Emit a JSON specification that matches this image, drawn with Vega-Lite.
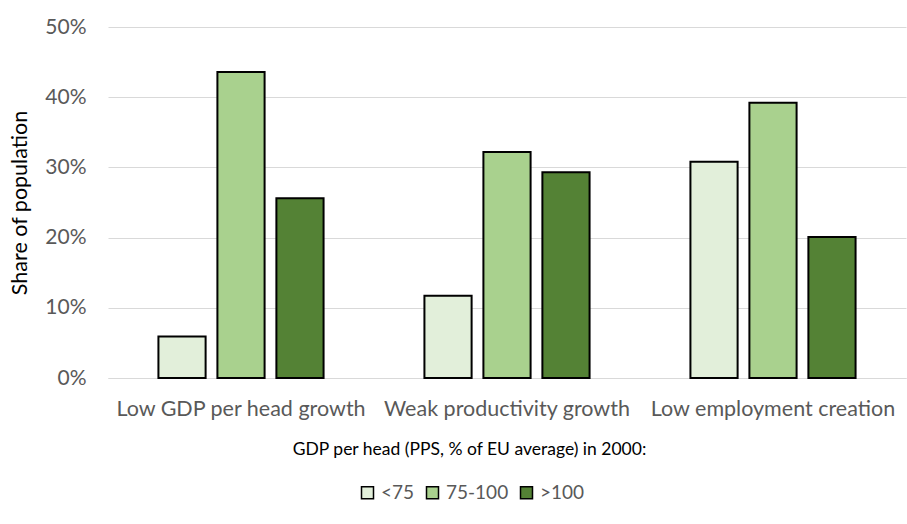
{
  "$schema": "https://vega.github.io/schema/vega-lite/v6.json",
  "width": 798,
  "height": 351,
  "autosize": "none",
  "padding": {"left": 108, "top": 27, "right": 1, "bottom": 146},
  "background": "white",
  "config": {
    "font": "Lato",
    "view": {"stroke": null}
  },
  "data": {
    "values": [
      {"category": "Low GDP per head growth", "group": "<75", "value": 0.059},
      {"category": "Low GDP per head growth", "group": "75-100", "value": 0.436},
      {"category": "Low GDP per head growth", "group": ">100", "value": 0.256},
      {"category": "Weak productivity growth", "group": "<75", "value": 0.117},
      {"category": "Weak productivity growth", "group": "75-100", "value": 0.322},
      {"category": "Weak productivity growth", "group": ">100", "value": 0.293},
      {"category": "Low employment creation", "group": "<75", "value": 0.308},
      {"category": "Low employment creation", "group": "75-100", "value": 0.392},
      {"category": "Low employment creation", "group": ">100", "value": 0.201}
    ]
  },
  "mark": {"type": "bar", "stroke": "black", "strokeWidth": 2},
  "encoding": {
    "x": {
      "field": "category",
      "type": "nominal",
      "sort": ["Low GDP per head growth", "Weak productivity growth", "Low employment creation"],
      "scale": {"paddingInner": 0, "paddingOuter": 0},
      "axis": {
        "title": "GDP per head (PPS, % of EU average) in 2000:",
        "titleFontSize": 17.5,
        "titleFontWeight": "normal",
        "titleColor": "#000000",
        "titleX": 361,
        "titleY": 71,
        "titleBaseline": "middle",
        "titleAnchor": null,
        "labelAngle": 0,
        "labelFontSize": 21.5,
        "labelLimit": 0,
        "labelColor": "#595959",
        "labelPadding": 20,
        "ticks": false,
        "domainColor": "#D9D9D9",
        "domainWidth": 1
      }
    },
    "xOffset": {
      "field": "group",
      "type": "nominal",
      "sort": ["<75", "75-100", ">100"],
      "scale": {"paddingInner": 0.2, "paddingOuter": 0.855}
    },
    "y": {
      "field": "value",
      "type": "quantitative",
      "scale": {"domain": [0, 0.5], "nice": false},
      "axis": {
        "title": "Share of population",
        "titleFontSize": 21.5,
        "titleFontWeight": "normal",
        "titleColor": "#000000",
        "titlePadding": 13,
        "format": ".0%",
        "values": [0, 0.1, 0.2, 0.3, 0.4, 0.5],
        "labelFontSize": 21,
        "labelColor": "#595959",
        "labelPadding": 22,
        "ticks": false,
        "domain": false,
        "gridColor": "#D9D9D9",
        "gridWidth": 1
      }
    },
    "color": {
      "field": "group",
      "type": "nominal",
      "sort": ["<75", "75-100", ">100"],
      "scale": {"domain": ["<75", "75-100", ">100"], "range": ["#E2EFDA", "#A9D18E", "#548235"]},
      "legend": {
        "title": null,
        "orient": "none",
        "direction": "horizontal",
        "legendX": 250,
        "legendY": 456,
        "symbolType": "square",
        "symbolSize": 144,
        "symbolStrokeColor": "black",
        "symbolStrokeWidth": 1.5,
        "labelFontSize": 19,
        "labelColor": "#595959",
        "columnPadding": 8,
        "labelOffset": 4
      }
    }
  }
}
